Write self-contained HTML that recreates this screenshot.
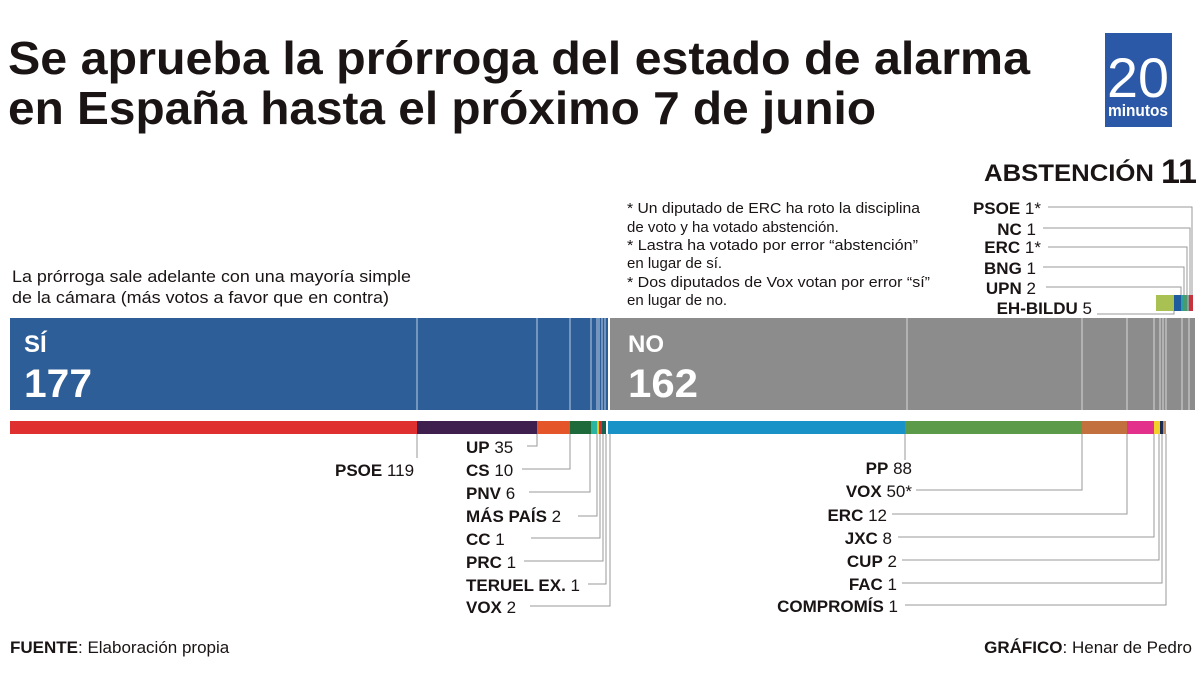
<!DOCTYPE html>
<html><head><meta charset="utf-8"><style>body{margin:0;background:#fff}svg{display:block}text{font-family:"Liberation Sans",sans-serif;fill:#1a1414}</style></head><body>
<svg width="1200" height="675" viewBox="0 0 1200 675" xmlns="http://www.w3.org/2000/svg">
<text x="8" y="74" font-size="46" font-weight="bold" textLength="1022" lengthAdjust="spacingAndGlyphs">Se aprueba la prórroga del estado de alarma</text>
<text x="8" y="124" font-size="46" font-weight="bold" textLength="868" lengthAdjust="spacingAndGlyphs">en España hasta el próximo 7 de junio</text>
<rect x="1105" y="33" width="67" height="94" fill="#2b59a8"/>
<text x="1138" y="97" font-size="56" style="fill:#fff" text-anchor="middle" textLength="62" lengthAdjust="spacingAndGlyphs">20</text>
<text x="1138" y="116" font-size="17" font-weight="bold" style="fill:#fff" text-anchor="middle" textLength="60" lengthAdjust="spacingAndGlyphs">minutos</text>
<text x="984" y="181" font-size="24" font-weight="bold" textLength="170" lengthAdjust="spacingAndGlyphs">ABSTENCIÓN</text>
<text x="1161" y="183" font-size="34" font-weight="bold" textLength="36" lengthAdjust="spacingAndGlyphs">11</text>
<g font-size="17" text-anchor="end">
<text x="1041" y="214"><tspan font-weight="bold">PSOE</tspan> 1*</text>
<text x="1036" y="235"><tspan font-weight="bold">NC</tspan> 1</text>
<text x="1041" y="253"><tspan font-weight="bold">ERC</tspan> 1*</text>
<text x="1036" y="274"><tspan font-weight="bold">BNG</tspan> 1</text>
<text x="1036" y="294"><tspan font-weight="bold">UPN</tspan> 2</text>
<text x="1092" y="314"><tspan font-weight="bold">EH-BILDU</tspan> 5</text>
</g>
<g fill="none" stroke="#999" stroke-width="1">
<path d="M1048 207H1192V295M1043 228H1190V295M1048 247H1187V295M1043 267H1184V295M1046 287H1181V295M1097 314H1174V311"/>
</g>
<rect x="1156" y="295" width="18" height="16" fill="#a9c052"/>
<rect x="1174" y="295" width="7" height="16" fill="#1e5c9e"/>
<rect x="1181" y="295" width="3" height="16" fill="#2aa0a0"/>
<rect x="1184" y="295" width="3" height="16" fill="#4a9a70"/>
<rect x="1187" y="295" width="2" height="16" fill="#999"/>
<rect x="1189" y="295" width="4" height="16" fill="#c8323a"/>
<g font-size="15">
<text x="627" y="213" textLength="293" lengthAdjust="spacingAndGlyphs">* Un diputado de ERC ha roto la disciplina</text>
<text x="627" y="232">de voto y ha votado abstención.</text>
<text x="627" y="250" textLength="291" lengthAdjust="spacingAndGlyphs">* Lastra ha votado por error “abstención”</text>
<text x="627" y="268">en lugar de sí.</text>
<text x="627" y="287" textLength="303" lengthAdjust="spacingAndGlyphs">* Dos diputados de Vox votan por error “sí”</text>
<text x="627" y="305">en lugar de no.</text>
</g>
<text x="12" y="282" font-size="17" textLength="399" lengthAdjust="spacingAndGlyphs">La prórroga sale adelante con una mayoría simple</text>
<text x="12" y="303" font-size="17" textLength="377" lengthAdjust="spacingAndGlyphs">de la cámara (más votos a favor que en contra)</text>
<rect x="10" y="318" width="598" height="92" fill="#2e5e98"/>
<rect x="608" y="318" width="587" height="92" fill="#8c8c8c"/>
<g stroke="#b8cce4" stroke-width="1">
<path d="M417 318V410M537 318V410M570 318V410M591 318V410M597 318V410M599 318V410M602 318V410M605 318V410"/>
</g>
<g stroke="#d8d8d8" stroke-width="1">
<path d="M907 318V410M1082 318V410M1127 318V410M1154 318V410M1160 318V410M1163 318V410M1166 318V410M1182 318V410M1189 318V410"/>
</g>
<rect x="608" y="318" width="2" height="92" fill="#fff"/>
<text x="24" y="352" font-size="24" font-weight="bold" style="fill:#fff">SÍ</text>
<text x="24" y="397" font-size="40" font-weight="bold" style="fill:#fff" textLength="68" lengthAdjust="spacingAndGlyphs">177</text>
<text x="628" y="352" font-size="24" font-weight="bold" style="fill:#fff">NO</text>
<text x="628" y="397" font-size="40" font-weight="bold" style="fill:#fff" textLength="70" lengthAdjust="spacingAndGlyphs">162</text>
<rect x="10" y="421" width="407" height="13" fill="#e02f2f"/>
<rect x="417" y="421" width="120" height="13" fill="#3e1f4e"/>
<rect x="537" y="421" width="33" height="13" fill="#e4552a"/>
<rect x="570" y="421" width="21" height="13" fill="#1e6a3a"/>
<rect x="591" y="421" width="6" height="13" fill="#2bb5a0"/>
<rect x="597" y="421" width="2" height="13" fill="#f2c318"/>
<rect x="599" y="421" width="3" height="13" fill="#d0303a"/>
<rect x="602" y="421" width="4" height="13" fill="#15604e"/>
<rect x="608" y="421" width="297" height="13" fill="#1992c8"/>
<rect x="905" y="421" width="177" height="13" fill="#5b9a48"/>
<rect x="1082" y="421" width="45" height="13" fill="#c2703e"/>
<rect x="1127" y="421" width="27" height="13" fill="#e3308a"/>
<rect x="1154" y="421" width="6" height="13" fill="#f2d22a"/>
<rect x="1160" y="421" width="3" height="13" fill="#1a2a50"/>
<rect x="1163" y="421" width="3" height="13" fill="#c08a60"/>
<g fill="none" stroke="#999" stroke-width="1">
<path d="M417 434V458M537 434V446H527M570 434V469H522M590 434V492H529M597 434V516H578M600 434V538H531M603 434V561H524M606 434V584H588M610 434V606H530"/>
<path d="M905 434V460M1082 434V490H916M1127 434V514H892M1154 434V537H898M1159 434V560H902M1162 434V583H902M1166 434V605H905"/>
</g>
<g font-size="17">
<text x="335" y="476"><tspan font-weight="bold">PSOE</tspan> 119</text>
<text x="466" y="453"><tspan font-weight="bold">UP</tspan> 35</text>
<text x="466" y="476"><tspan font-weight="bold">CS</tspan> 10</text>
<text x="466" y="499"><tspan font-weight="bold">PNV</tspan> 6</text>
<text x="466" y="522"><tspan font-weight="bold">MÁS PAÍS</tspan> 2</text>
<text x="466" y="545"><tspan font-weight="bold">CC</tspan> 1</text>
<text x="466" y="568"><tspan font-weight="bold">PRC</tspan> 1</text>
<text x="466" y="591"><tspan font-weight="bold">TERUEL EX.</tspan> 1</text>
<text x="466" y="613"><tspan font-weight="bold">VOX</tspan> 2</text>
</g>
<g font-size="17" text-anchor="end">
<text x="912" y="474"><tspan font-weight="bold">PP</tspan> 88</text>
<text x="912" y="497"><tspan font-weight="bold">VOX</tspan> 50*</text>
<text x="887" y="521"><tspan font-weight="bold">ERC</tspan> 12</text>
<text x="892" y="544"><tspan font-weight="bold">JXC</tspan> 8</text>
<text x="897" y="567"><tspan font-weight="bold">CUP</tspan> 2</text>
<text x="897" y="590"><tspan font-weight="bold">FAC</tspan> 1</text>
<text x="898" y="612"><tspan font-weight="bold">COMPROMÍS</tspan> 1</text>
</g>
<text x="10" y="653" font-size="17"><tspan font-weight="bold">FUENTE</tspan>: Elaboración propia</text>
<text x="1192" y="653" font-size="17" text-anchor="end"><tspan font-weight="bold">GRÁFICO</tspan>: Henar de Pedro</text>
</svg>
</body></html>
